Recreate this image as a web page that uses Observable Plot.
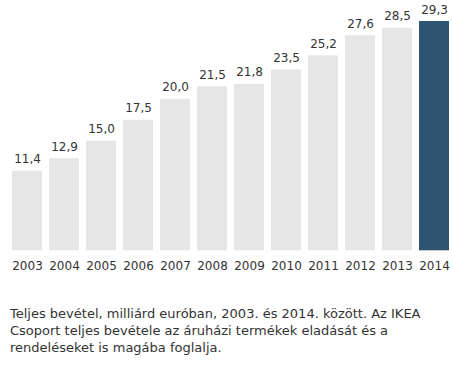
<!DOCTYPE html>
<html>
<head>
<meta charset="utf-8">
<script src="https://cdn.jsdelivr.net/npm/d3@7"></script>
<script src="https://cdn.jsdelivr.net/npm/@observablehq/plot@0.6"></script>
<style>
  body { margin: 0; background: #fff; font-family: Verdana, "DejaVu Sans", sans-serif; }
  #caption { font-size: 13px; line-height: 17px; color: #333; margin: 25px 0 0 10px; width: 440px; }
</style>
</head>
<body>
<div id="chart"></div>
<div id="caption">Teljes bevétel, milliárd euróban, 2003. és 2014. között. Az IKEA<br>Csoport teljes bevétele az áruházi termékek eladását és a<br>rendeléseket is magába foglalja.</div>
<script>
const years = ["2003","2004","2005","2006","2007","2008","2009","2010","2011","2012","2013","2014"];
const revenue = [11.4, 12.9, 15.0, 17.5, 20.0, 21.5, 21.8, 23.5, 25.2, 27.6, 28.5, 29.3];
const highlightYear = "2014";

const data = years.map((y, i) => ({year: y, value: revenue[i], hi: y === highlightYear}));
const fmt = v => v.toFixed(1).replace(".", ",");

const plot = Plot.plot({
  width: 453,
  height: 280,
  marginLeft: 12,
  marginRight: 4,
  marginTop: 21,
  marginBottom: 29.7,
  style: {fontSize: "12px", fontFamily: "Verdana, 'DejaVu Sans', sans-serif", color: "#333", background: "#fff"},
  x: {domain: years, paddingInner: 0.19, paddingOuter: 0, label: null},
  y: {domain: [1.9, 29.3], axis: null},
  marks: [
    Plot.barY(data, {x: "year", y1: 1.9, y2: "value", fill: d => d.hi ? "#2f5472" : "#e6e6e6"}),
    Plot.text(data, {x: "year", y: "value", text: d => fmt(d.value), lineAnchor: "bottom", dy: -8, fill: "#333"}),
    Plot.axisX({tickSize: 0, tickPadding: 11, label: null, fill: "#333"})
  ]
});
document.getElementById("chart").appendChild(plot);
</script>
</body>
</html>
